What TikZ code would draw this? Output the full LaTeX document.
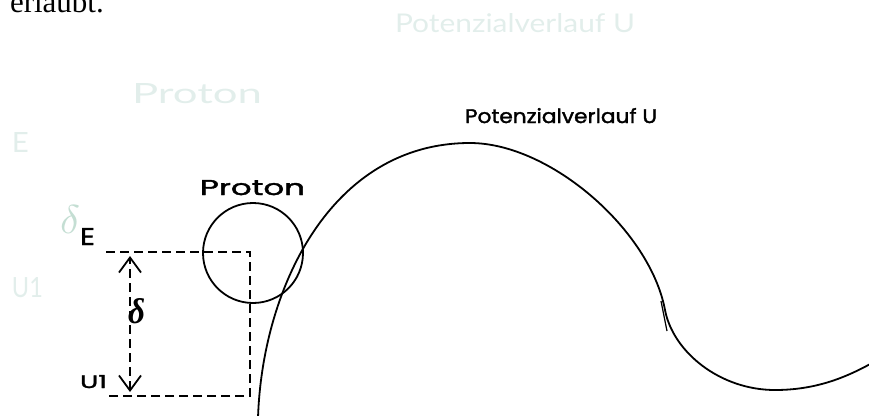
\documentclass[tikz,border=0pt]{standalone}
\usepackage{fontspec}
\setmainfont{Liberation Serif}
\newfontfamily\ghostfont{Lato}
\newfontfamily\cadmed{Poppins}[FakeBold=1.6]
\usetikzlibrary{arrows.meta}
\definecolor{faint}{RGB}{226,238,235}
\definecolor{faintd}{RGB}{196,222,211}
\newcommand\fitbox[3]{\resizebox{#1}{#2}{#3}}
\begin{document}
\begin{tikzpicture}[x=1pt,y=-1pt,
  lbl/.style={anchor=base west, inner sep=0pt, outer sep=0pt},
  ghost/.style={lbl, text=faint},
  curvel/.style={line width=1.8pt, line cap=round},
  dashl/.style={line width=1.8pt, dash pattern=on 9pt off 5pt},
  barb/.style={{Straight Barb[length=15pt,width=22pt,line width=1.8pt]}-{Straight Barb[length=15pt,width=22pt,line width=1.8pt]}}
]
\useasboundingbox (0,0) rectangle (869,415);
\clip (0,0) rectangle (869,415);

% cut-off text at top
\node[lbl, font=\fontsize{31}{33}\selectfont] (erl) at (10,12.5) {erlaubt.};

% faint ghost labels
\node[ghost] (gpot) at (395,32) {\fitbox{240pt}{19pt}{\ghostfont Potenzialverlauf U}};
\node[ghost] (gpro) at (132,103) {\fitbox{130pt}{20pt}{\ghostfont Proton}};
\node[ghost] (ge) at (12,152) {\fitbox{17pt}{20pt}{\ghostfont E}};
\node[ghost] (gu) at (12,297) {\fitbox{31pt}{20pt}{\ghostfont U1}};
\node[lbl, text=faintd] (gdelta) at (60,233) {\fitbox{20pt}{28pt}{$\delta$}};

% black labels
\node[lbl] (pot) at (465,123) {\fitbox{192pt}{15pt}{\cadmed Potenzialverlauf U}};
\node[lbl] (pro) at (200,195) {\fitbox{105pt}{15pt}{\cadmed Proton}};
\node[lbl] (e) at (80,245) {\fitbox{15pt}{17pt}{\cadmed E}};
\node[lbl] (u) at (80,388) {\fitbox{27pt}{13pt}{\cadmed U1}};
\node[lbl] (delta) at (128,323) {\fitbox{17pt}{25pt}{\bfseries\itshape δ}};

% proton circle
\node[circle, draw, line width=1.8pt, minimum size=100pt, inner sep=0pt] (proton) at (253,253) {};

% dashed frame
\coordinate (tl) at (106,252);
\coordinate (tr) at (250,252);
\coordinate (br) at (250,396);
\coordinate (bl) at (106,396);
\draw[dashl] (tl) -- (tr) -- (br) -- (bl);

% delta arrow
\coordinate (atop) at (130,256);
\coordinate (abot) at (130,392);
\draw[dashl, barb] (abot) -- (atop);

% potential curve
\draw[curvel] (258,418) .. controls (262,290) and (330,143) .. (470,143)
  .. controls (550,143) and (650,230) .. (665,310)
  .. controls (673,352) and (720,390) .. (775,390)
  .. controls (815,390) and (845,378) .. (872,363);
\coordinate (g1) at (661,301);
\coordinate (g2) at (667,331);
\draw[line width=1.2pt] (g1) -- (g2);
\end{tikzpicture}
\end{document}
